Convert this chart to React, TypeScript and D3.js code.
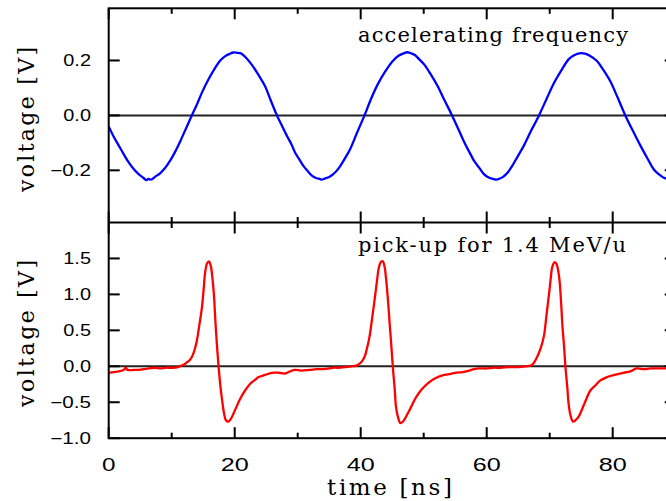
import React from "react";
import * as d3 from "d3";

// ---------- data ----------
const rfTime = [
  0.0, 0.8, 1.6, 2.4, 3.2, 4.0, 4.8, 5.5, 6.0, 6.3, 6.7, 7.4, 8.2, 9.0, 9.8, 10.6, 11.4, 12.2, 13.2, 14.0,
  14.8, 15.8, 16.9, 17.7, 18.5, 19.2, 19.8, 20.4, 21.0, 21.8, 22.7, 23.7, 24.8, 25.7, 26.7, 27.5, 28.3, 29.0,
  29.6, 30.3, 30.9, 31.6, 32.3, 33.0, 33.5, 33.8, 34.3, 35.0, 35.6, 36.5, 37.4, 38.3, 39.4, 40.6, 41.6, 42.7,
  43.9, 45.1, 46.0, 46.8, 47.4, 48.0, 48.6, 49.3, 50.1, 51.1, 52.2, 53.3, 54.5, 55.6, 56.7, 57.4, 58.0, 58.8,
  59.6, 60.4, 61.0, 61.5, 62.1, 62.7, 63.3, 64.0, 64.9, 65.9, 67.0, 68.3, 69.5, 70.7, 71.9, 73.0, 73.8, 74.5,
  75.0, 75.6, 76.3, 77.5, 78.5, 79.6, 80.8, 82.0, 83.2, 84.4, 85.5, 86.5, 87.3, 88.1, 89.0, 90.0,
];
const rfVoltage = [
  -0.040, -0.078, -0.110, -0.142, -0.172, -0.196, -0.215, -0.227, -0.236, -0.231, -0.234, -0.223, -0.210, -0.190, -0.163, -0.130, -0.092, -0.051, 0.000, 0.040,
  0.083, 0.130, 0.173, 0.200, 0.216, 0.224, 0.229, 0.228, 0.226, 0.210, 0.185, 0.150, 0.107, 0.056, 0.000, -0.038, -0.075, -0.105,
  -0.136, -0.162, -0.184, -0.203, -0.220, -0.229, -0.231, -0.234, -0.230, -0.224, -0.215, -0.193, -0.160, -0.124, -0.064, 0.000, 0.058, 0.113,
  0.160, 0.198, 0.217, 0.226, 0.230, 0.226, 0.220, 0.204, 0.185, 0.150, 0.107, 0.055, 0.000, -0.055, -0.110, -0.140, -0.166, -0.190,
  -0.215, -0.227, -0.231, -0.234, -0.230, -0.222, -0.209, -0.186, -0.150, -0.110, -0.058, 0.000, 0.060, 0.119, 0.166, 0.204, 0.218, 0.225,
  0.227, 0.225, 0.218, 0.198, 0.166, 0.125, 0.064, 0.000, -0.056, -0.110, -0.156, -0.196, -0.214, -0.227, -0.232, -0.230,
];

const pickTime = [
  0.0, 0.8, 1.6, 2.4, 2.7, 3.0, 4.0, 4.8, 5.6, 6.4, 7.4, 8.2, 9.0, 10.1, 11.0, 11.6, 12.2, 12.8, 13.2, 13.6,
  14.0, 14.4, 14.8, 15.1, 15.3, 15.6, 15.9, 16.2, 16.4, 16.7, 16.9, 17.1, 17.4, 17.7, 18.0, 18.3, 18.6, 19.0,
  19.4, 19.8, 20.5, 21.0, 21.7, 22.5, 23.2, 23.8, 24.8, 25.9, 27.0, 28.0, 28.8, 29.6, 30.5, 31.9, 33.0, 34.0,
  35.0, 35.6, 36.5, 37.5, 38.5, 39.3, 40.0, 40.6, 41.0, 41.4, 41.8, 42.2, 42.6, 42.9, 43.2, 43.5, 43.8, 44.0,
  44.3, 44.6, 44.85, 45.1, 45.4, 45.6, 45.9, 46.3, 46.7, 47.0, 47.8, 48.8, 49.8, 50.9, 52.0, 53.0, 54.0, 55.0,
  56.2, 57.2, 58.0, 58.8, 60.0, 61.0, 62.2, 63.5, 65.0, 66.2, 67.0, 67.5, 68.0, 68.6, 69.1, 69.5, 69.9, 70.2,
  70.4, 70.8, 71.1, 71.5, 71.8, 72.0, 72.3, 72.5, 72.8, 73.0, 73.3, 73.7, 74.1, 74.6, 75.5, 76.5, 77.2, 78.0,
  79.1, 80.3, 81.7, 82.8, 83.8, 85.0, 86.0, 87.0, 88.1, 89.0, 90.0,
];
const pickVoltage = [
  -0.09, -0.08, -0.07, -0.05, -0.02, -0.05, -0.05, -0.05, -0.04, -0.03, -0.02, -0.03, -0.02, -0.02, -0.01, 0.01, 0.04, 0.08, 0.13, 0.22,
  0.36, 0.58, 0.82, 1.10, 1.30, 1.43, 1.46, 1.40, 1.28, 1.00, 0.68, 0.40, 0.04, -0.25, -0.47, -0.65, -0.75, -0.77,
  -0.73, -0.66, -0.52, -0.43, -0.33, -0.24, -0.19, -0.15, -0.12, -0.09, -0.09, -0.10, -0.07, -0.05, -0.06, -0.05, -0.04, -0.04,
  -0.03, -0.02, -0.02, -0.01, 0.00, 0.01, 0.05, 0.13, 0.25, 0.41, 0.66, 0.92, 1.20, 1.38, 1.45, 1.46, 1.38, 1.24,
  0.95, 0.59, 0.30, -0.01, -0.32, -0.56, -0.70, -0.79, -0.77, -0.73, -0.60, -0.43, -0.31, -0.22, -0.16, -0.125, -0.11, -0.09,
  -0.08, -0.06, -0.04, -0.03, -0.03, -0.02, -0.02, -0.01, -0.01, 0.00, 0.01, 0.05, 0.13, 0.26, 0.43, 0.72, 1.01, 1.25,
  1.38, 1.45, 1.42, 1.24, 0.90, 0.59, 0.25, -0.01, -0.30, -0.52, -0.68, -0.77, -0.75, -0.70, -0.52, -0.33, -0.27, -0.20,
  -0.15, -0.12, -0.09, -0.07, -0.03, -0.04, -0.03, -0.03, -0.03, -0.03, -0.03,
];

const xTickValues = [0, 10, 20, 30, 40, 50, 60, 70, 80, 90];
const xTickLabels = ["0", "", "20", "", "40", "", "60", "", "80", ""];
const topTickValues = [-0.2, 0, 0.2];
const topTickLabels = ["\u22120.2", "0.0", "0.2"];
const botTickValues = [-1, -0.5, 0, 0.5, 1, 1.5];
const botTickLabels = ["\u22121.0", "\u22120.5", "0.0", "0.5", "1.0", "1.5"];

const topTitle = "accelerating frequency";
const botTitle = "pick-up for 1.4 MeV/u";
const xTitle = "time [ns]";
const yTitle = "voltage [V]";

// ---------- helpers ----------
const SERIF = "'DejaVu Serif', 'Liberation Serif', serif";
const SANS = "'Liberation Sans', Arial, sans-serif";

function FitText({ text, x, y, width, size, rotate = false }: any) {
  return (
    <g transform={`translate(${x},${y})${rotate ? " rotate(-90)" : ""}`}>
      <text x={0} y={0} fontFamily={SERIF} fontSize={size} fill="#000" textLength={width} lengthAdjust="spacing"
        style={{ whiteSpace: "pre" }}>
        {text}
      </text>
    </g>
  );
}

function labelWidth(s: string, digit: number, dot: number, minus: number) {
  let w = 0;
  for (const c of s) w += c === "." ? dot : c === "\u2212" ? minus : digit;
  return w;
}

export default function App() {
  const W = 666, H = 501;
  const left = 108.7, right = 675.7, top = 8.3, mid = 222.5, bottom = 438.2;
  const x = d3.scaleLinear().domain([0, 90]).range([left, right]);
  const yTop = d3.scaleLinear().domain([-0.39, 0.39]).range([mid, top]);
  const yBot = d3.scaleLinear().domain([-1, 2]).range([bottom, mid]);

  const rfData = rfTime.map((t, i) => [t, rfVoltage[i]] as [number, number]);
  const pkData = pickTime.map((t, i) => [t, pickVoltage[i]] as [number, number]);
  const lineTop = d3.line<[number, number]>().x((d) => x(d[0])).y((d) => yTop(d[1])).curve(d3.curveCatmullRom.alpha(0.5));
  const lineBot = d3.line<[number, number]>().x((d) => x(d[0])).y((d) => yBot(d[1])).curve(d3.curveCatmullRom.alpha(0.5));

  const major = 11, minor = 5.5;
  const axisStroke = { stroke: "#000", strokeWidth: 2, fill: "none" };

  const xTicks: any[] = [];
  xTickValues.forEach((v, i) => {
    const L = v % 20 === 0 ? major : minor;
    const px = x(v);
    xTicks.push(<line key={"a" + i} x1={px} x2={px} y1={top} y2={top + L} {...axisStroke} />);
    xTicks.push(<line key={"b" + i} x1={px} x2={px} y1={mid - L} y2={mid + L} {...axisStroke} />);
    xTicks.push(<line key={"c" + i} x1={px} x2={px} y1={bottom} y2={bottom - L} {...axisStroke} />);
  });

  const yTicksEls: any[] = [];
  topTickValues.forEach((v, i) => {
    const py = yTop(v);
    yTicksEls.push(<line key={"tl" + i} x1={left} x2={left + major} y1={py} y2={py} {...axisStroke} />);
    yTicksEls.push(<line key={"tr" + i} x1={right} x2={right - major} y1={py} y2={py} {...axisStroke} />);
  });
  botTickValues.forEach((v, i) => {
    const py = yBot(v);
    yTicksEls.push(<line key={"bl" + i} x1={left} x2={left + major} y1={py} y2={py} {...axisStroke} />);
    yTicksEls.push(<line key={"br" + i} x1={right} x2={right - major} y1={py} y2={py} {...axisStroke} />);
  });

  return (
    <svg width={W} height={H} style={{ position: "absolute", left: 0, top: 0, background: "#fff" }}>
      <defs>
        <clipPath id="clipTop">
          <rect x={left} y={top} width={right - left} height={mid - top} />
        </clipPath>
        <clipPath id="clipBot">
          <rect x={left} y={mid} width={right - left} height={bottom - mid} />
        </clipPath>
      </defs>
      <rect x={0} y={0} width={W} height={H} fill="#fff" />

      {/* zero lines */}
      <line x1={left} x2={right} y1={yTop(0)} y2={yTop(0)} stroke="#222" strokeWidth={2} />
      <line x1={left} x2={right} y1={yBot(0)} y2={yBot(0)} stroke="#222" strokeWidth={2} />

      {/* curves */}
      <path d={lineTop(rfData) || ""} fill="none" stroke="#0000ff" strokeWidth={2.3} clipPath="url(#clipTop)" strokeLinejoin="round" />
      <path d={lineBot(pkData) || ""} fill="none" stroke="#ff0000" strokeWidth={2.3} clipPath="url(#clipBot)" strokeLinejoin="round" />

      {/* frames */}
      <rect x={left} y={top} width={right - left} height={bottom - top} {...axisStroke} />
      <line x1={left} x2={right} y1={mid} y2={mid} {...axisStroke} />
      {xTicks}
      {yTicksEls}

      {/* y tick labels */}
      {topTickValues.map((v, i) => (
        <text key={"tyl" + i} x={91} y={yTop(v) + 6} textAnchor="end" fontFamily={SANS} fontSize={16}
          textLength={labelWidth(topTickLabels[i], 11.2, 5.3, 13)} lengthAdjust="spacingAndGlyphs">
          {topTickLabels[i]}
        </text>
      ))}
      {botTickValues.map((v, i) => (
        <text key={"byl" + i} x={91} y={yBot(v) + 6} textAnchor="end" fontFamily={SANS} fontSize={16}
          textLength={labelWidth(botTickLabels[i], 11.2, 5.3, 13)} lengthAdjust="spacingAndGlyphs">
          {botTickLabels[i]}
        </text>
      ))}

      {/* x tick labels */}
      {xTickValues.map((v, i) =>
        xTickLabels[i] ? (
          <text key={"xl" + i} x={x(v)} y={470.5} textAnchor="middle" fontFamily={SANS} fontSize={19}
            textLength={xTickLabels[i].length * 14.5 - 1} lengthAdjust="spacingAndGlyphs">
            {xTickLabels[i]}
          </text>
        ) : null
      )}

      {/* titles */}
      <FitText text={topTitle} x={358} y={41.5} width={270} size={21} />
      <FitText text={botTitle} x={358} y={251.5} width={268} size={21} />
      <FitText text={xTitle} x={327} y={495} width={125} size={23} />
      <FitText text={yTitle} x={34} y={192} width={145} size={22} rotate />
      <FitText text={yTitle} x={34} y={407} width={147} size={22} rotate />
    </svg>
  );
}
